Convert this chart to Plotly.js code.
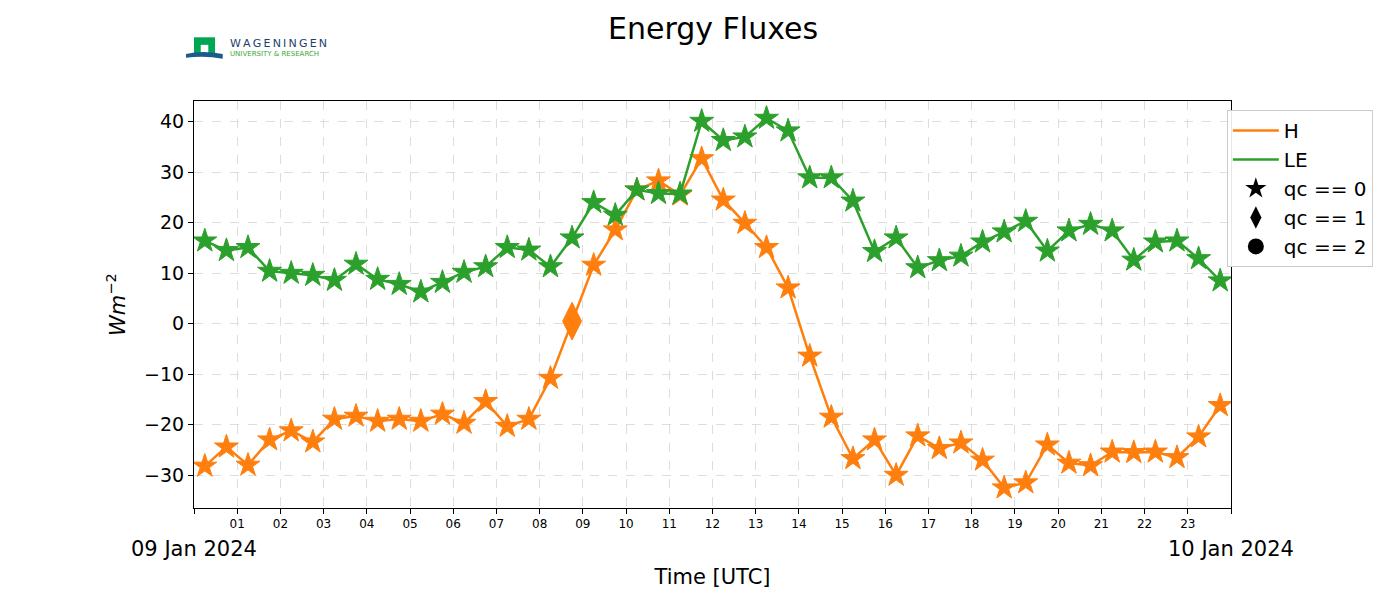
<!DOCTYPE html>
<html>
<head>
<meta charset="utf-8">
<script src="https://cdn.plot.ly/plotly-3.0.1.min.js"></script>
<style>html,body{margin:0;padding:0;background:#fff;}#chart{width:1400px;height:600px;}</style>
</head>
<body>
<div id="chart"></div>
<script>
const times = ['00:15','00:45','01:15','01:45','02:15','02:45','03:15','03:45','04:15','04:45','05:15','05:45',
  '06:15','06:45','07:15','07:45','08:15','08:45','09:15','09:45','10:15','10:45','11:15','11:45',
  '12:15','12:45','13:15','13:45','14:15','14:45','15:15','15:45','16:15','16:45','17:15','17:45',
  '18:15','18:45','19:15','19:45','20:15','20:45','21:15','21:45','22:15','22:45','23:15','23:45'];
const day = '2024-01-09';
const H = [-28.2,-24.4,-28.0,-23.0,-21.2,-23.4,-18.9,-18.3,-19.3,-18.9,-19.3,-17.9,
  -19.7,-15.4,-20.3,-18.9,-10.8,0.5,11.6,18.6,26.5,28.3,25.5,32.7,
  24.5,19.9,15.1,7.1,-6.4,-18.5,-26.7,-23.0,-30.0,-22.2,-24.7,-23.6,
  -27.0,-32.5,-31.5,-24.0,-27.6,-28.1,-25.4,-25.5,-25.4,-26.5,-22.4,-16.2];
const LE = [16.4,14.5,15.1,10.4,10.0,9.6,8.6,11.8,8.8,7.8,6.3,8.2,
  10.2,11.3,15.1,14.6,11.3,17.0,24.0,21.5,26.5,25.8,25.7,40.1,
  36.3,37.0,40.7,38.2,28.9,28.9,24.3,14.3,17.0,11.1,12.5,13.4,
  16.2,18.2,20.3,14.4,18.4,19.7,18.4,12.6,16.2,16.4,12.9,8.5];
const qcH = [0,0,0,0,0,0,0,0,0,0,0,0,0,0,0,0,0,1,0,0,0,0,0,0,
  0,0,0,0,0,0,0,0,0,0,0,0,0,0,0,0,0,0,0,0,0,0,0,0];
const qcLE = [0,0,0,0,0,0,0,0,0,0,0,0,0,0,0,0,0,0,0,0,0,0,0,0,
  0,0,0,0,0,0,0,0,0,0,0,0,0,0,0,0,0,0,0,0,0,0,0,0];
const hourTicks = ['01','02','03','04','05','06','07','08','09','10','11','12',
  '13','14','15','16','17','18','19','20','21','22','23'];
const qcLabels = ['qc == 0','qc == 1','qc == 2'];
const qcSymbols = ['star','diamond-tall','circle'];
const dateLabels = ['09 Jan 2024','10 Jan 2024'];
const dateStarts = ['2024-01-09 00:00','2024-01-10 00:00'];

const orange = '#ff7f0e', green = '#2ca02c';
const x = times.map(t => day + ' ' + t + ':00');
const tickvals = hourTicks.map(h => day + ' ' + h + ':00:00');

function series(y, qc, color, name) {
  return {
    x: x, y: y, type: 'scatter', mode: 'lines+markers', name: name, showlegend: false,
    line: {color: color, width: 2.5},
    marker: {color: color, opacity: 1, size: qc.map(q => q === 1 ? 27 : 18), symbol: qc.map(q => qcSymbols[q]),
      line: {color: color, width: 1}},
    hoverinfo: 'x+y'
  };
}
const traces = [
  series(H, qcH, orange, 'H'),
  series(LE, qcLE, green, 'LE'),
  {x: [null], y: [null], type: 'scatter', mode: 'lines', name: 'H', line: {color: orange, width: 2.5}},
  {x: [null], y: [null], type: 'scatter', mode: 'lines', name: 'LE', line: {color: green, width: 2.5}}
];
qcLabels.forEach((lab, i) => traces.push({
  x: [null], y: [null], type: 'scatter', mode: 'markers', name: lab,
  marker: {color: 'black', symbol: qcSymbols[i], size: i === 1 ? 22 : 16}
}));

const font = 'DejaVu Sans, sans-serif';
const layout = {
  width: 1400, height: 600,
  margin: {l: 194, r: 169, t: 101, b: 92},
  paper_bgcolor: '#fff', plot_bgcolor: '#fff',
  font: {family: font, color: '#000'},
  title: {text: 'Energy Fluxes', font: {size: 30, family: font, color: '#000'},
    x: 0.5005, xanchor: 'center', y: 0.953, yanchor: 'middle', xref: 'paper'},
  xaxis: {
    type: 'date', range: [dateStarts[0], dateStarts[1]],
    tickmode: 'array', tickvals: tickvals, ticktext: hourTicks,
    tickfont: {size: 12, family: font}, ticks: 'outside', ticklen: 5, tickcolor: '#000',
    minor: {ticks: 'outside', ticklen: 5, tickcolor: '#000', tick0: dateStarts[0], dtick: 86400000, showgrid: false},
    showgrid: true, gridcolor: '#dddddd', griddash: 'dash', gridwidth: 1,
    showline: true, mirror: true, linecolor: '#000', linewidth: 1, zeroline: false,
    title: {text: 'Time [UTC]', font: {size: 21, family: font}, standoff: 38}
  },
  yaxis: {
    range: [-36.5, 44.1], tickvals: [-30,-20,-10,0,10,20,30,40],
    tickfont: {size: 19, family: font}, ticks: 'outside', ticklen: 5, tickcolor: '#000',
    showgrid: true, gridcolor: '#dddddd', griddash: 'dash', gridwidth: 1,
    showline: true, mirror: true, linecolor: '#000', linewidth: 1, zeroline: false,
    title: {text: '<i>Wm</i><sup>−2</sup>', font: {size: 21, family: font}, standoff: 12}
  },
  legend: {
    x: 0.996, y: 0.978, xanchor: 'left', yanchor: 'top',
    font: {size: 20, family: font}, bgcolor: 'rgba(255,255,255,0.9)',
    bordercolor: '#cccccc', borderwidth: 1, tracegroupgap: 0, itemwidth: 46
  },
  annotations: dateLabels.map((t, i) => ({
    text: t, x: dateStarts[i], xref: 'x', y: -0.1, yref: 'paper',
    xanchor: 'center', yanchor: 'middle', showarrow: false,
    font: {size: 21, family: font}
  })).concat([
    {text: 'W\u2009A\u2009G\u2009E\u2009N\u2009I\u2009N\u2009G\u2009E\u2009N', xref: 'paper', yref: 'paper',
     x: 0.0328, y: 1.1425, xanchor: 'left', yanchor: 'middle', showarrow: false,
     font: {size: 11, family: font, color: '#1d3f6e'}},
    {text: 'UNIVERSITY & RESEARCH', xref: 'paper', yref: 'paper',
     x: 0.0328, y: 1.1155, xanchor: 'left', yanchor: 'middle', showarrow: false,
     font: {size: 7, family: font, color: '#3aa935'}}
  ]),
  shapes: [
    {type: 'rect', xref: 'paper', yref: 'paper', x0: 0, x1: 0.0203, y0: 1.1155, y1: 1.1565,
     fillcolor: '#00a651', line: {width: 0}},
    {type: 'rect', xref: 'paper', yref: 'paper', x0: 0.0065, x1: 0.0138, y0: 1.1155, y1: 1.138,
     fillcolor: '#ffffff', line: {width: 0}},
    {type: 'path', xref: 'paper', yref: 'paper',
     path: 'M -0.0077,1.1155 Q 0.008,1.125 0.0277,1.1155 L 0.0277,1.104 Q 0.01,1.112 -0.0077,1.106 Z',
     fillcolor: '#1d5a8c', line: {width: 0}}
  ],
  hovermode: 'closest'
};
Plotly.newPlot('chart', traces, layout, {displayModeBar: false, staticPlot: true});
</script>
</body>
</html>
